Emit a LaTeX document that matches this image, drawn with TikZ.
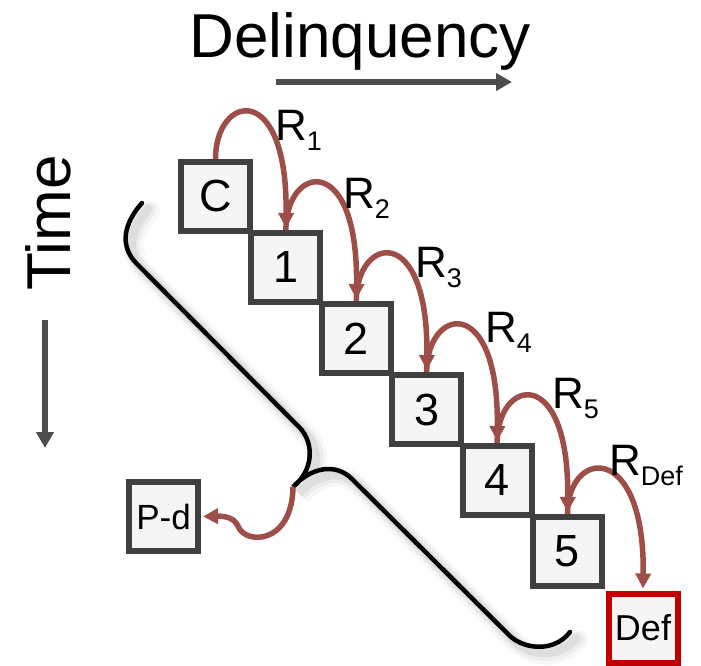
\documentclass[tikz,border=0pt]{standalone}
\usepackage{fontspec}
\setmainfont{Liberation Sans}
\usepackage{xcolor}
\usetikzlibrary{arrows.meta, positioning, calc}
\definecolor{boxgray}{HTML}{404040}
\definecolor{boxfill}{HTML}{F5F5F5}
\definecolor{arcred}{HTML}{9E4E48}
\definecolor{defred}{HTML}{C00000}
\definecolor{axisgray}{HTML}{4D4D4D}
\newcommand{\fsz}[1]{\fontsize{#1}{#1}\selectfont}
\newcommand{\rsub}[1]{R\raisebox{-10pt}{\fsz{27}#1}}
\tikzset{
  stage/.style={rectangle, draw=boxgray, fill=boxfill, line width=6pt,
                minimum size=69pt, inner sep=0pt, font=\fsz{45}},
  absorb/.style={stage, draw=defred, font=\fsz{36}},
  trans/.style={-{Triangle[length=15pt,width=15pt]}, arcred, line width=5.5pt,
                shorten >=2pt},
  axis/.style={-{Triangle[length=16pt,width=17pt]}, axisgray, line width=5.5pt},
  brace/.style={line width=4.5pt, black, line cap=round},
  rlab/.style={anchor=base west, inner sep=0pt, font=\fsz{44}}
}

\begin{document}
\begin{tikzpicture}[x=1pt, y=-1pt]
  \useasboundingbox (0,0) rectangle (701,665);

  % axes
  \node[font=\fsz{62}, anchor=base] (dlq) at (360,57) {Delinquency};
  \coordinate (dq0) at (276,82);
  \coordinate (dq1) at (512,82);
  \draw[axis] (dq0) -- (dq1);
  \node[font=\fsz{62}, anchor=base, rotate=90] (time) at (70,223) {Time};
  \coordinate (tm0) at (45,320);
  \coordinate (tm1) at (45,448);
  \draw[axis] (tm0) -- (tm1);

  % brace with soft shadow
  \coordinate (tip) at (293,487);
  \foreach \w/\o/\d in {20/0.03/8, 14/0.045/7, 9/0.06/6, 4.5/1/0}
    \draw[brace, line width=\w pt, draw opacity=\o, shift={(\d,\d)}]
      (142,203) .. controls (125,222) and (118,245) .. (137,264) -- (300,428)
      .. controls (314,443) and (314,470) .. (293,487)
      .. controls (310,468) and (335,462) .. (352,479) -- (510,636)
      .. controls (525,650) and (555,652) .. (570,632);

  % stages
  \foreach \s [count=\i from 0] in {C,1,2,3,4,5}
    \node[stage] (s\i) at (215.5+70.4*\i, 196.5+71*\i) {\s};
  \node[absorb] (def) at (643,628) {Def};
  \node[stage, font=\fsz{35}] (pd) at (163.5,516.5) {P-d};

  % transitions
  \foreach \a/\b in {s0/s1, s1/s2, s2/s3, s3/s4, s4/s5, s5/def}
    \draw[trans] (\a.north) .. controls +(0,-65) and +(2,-151) .. (\b.north);
  \foreach \t/\x/\y in {1/275/140, 2/343/208, 3/415/277, 4/485/342, 5/552/408, Def/609/475}
    \node[rlab] (r\t) at (\x,\y) {\rsub{\t}};

  \draw[trans] (tip) .. controls (292,545) and (245,545) .. (238,526)
    .. controls (234,518) and (226,516) .. (pd.east);
\end{tikzpicture}
\end{document}
